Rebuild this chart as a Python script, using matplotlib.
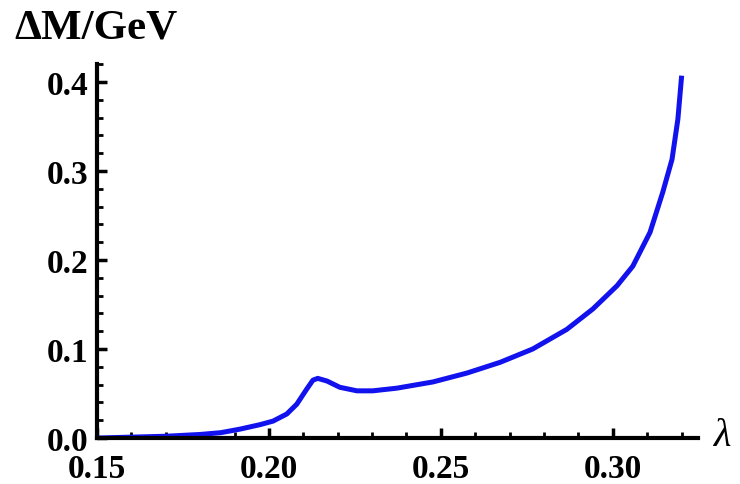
import matplotlib
matplotlib.use("Agg")
import matplotlib.pyplot as plt
from matplotlib.ticker import MultipleLocator, FixedLocator

lam = [0.150, 0.160, 0.170, 0.180, 0.186, 0.1916, 0.1974, 0.2012, 0.2052, 0.2081,
       0.2110, 0.2128, 0.2142, 0.2169, 0.2206, 0.2256, 0.2302, 0.2372, 0.2477, 0.2576,
       0.2672, 0.2767, 0.2866, 0.2942, 0.3012, 0.3058, 0.3108, 0.3145, 0.3172, 0.3189, 0.3200]
dM = [0.000, 0.001, 0.002, 0.004, 0.006, 0.010, 0.015, 0.019, 0.027, 0.038,
      0.055, 0.065, 0.067, 0.064, 0.057, 0.053, 0.053, 0.056, 0.063, 0.073,
      0.085, 0.100, 0.122, 0.145, 0.171, 0.193, 0.231, 0.276, 0.313, 0.358, 0.407]

xticks = [0.15, 0.20, 0.25, 0.30]
xticklabels = ["0.15", "0.20", "0.25", "0.30"]
yticks = [0.0, 0.1, 0.2, 0.3, 0.4]
yticklabels = ["0.0", "0.1", "0.2", "0.3", "0.4"]

plt.rcParams['font.family'] = ['Liberation Serif', 'DejaVu Serif']

fig = plt.figure(figsize=(7.4, 4.85), dpi=100)
ax = fig.add_axes([0.131, 0.0948, 0.812, 0.771])

ax.plot(lam, dM, color='#1212ee', lw=3.6, solid_capstyle='butt', solid_joinstyle='round')

ax.set_xlim(0.15, 0.3247)
ax.set_ylim(0.0, 0.42)

for s in ['top', 'right']:
    ax.spines[s].set_visible(False)
for s in ['left', 'bottom']:
    ax.spines[s].set_linewidth(3.0)
    ax.spines[s].set_color('black')

ax.xaxis.set_major_locator(FixedLocator(xticks))
ax.set_xticklabels(xticklabels)
ax.yaxis.set_major_locator(FixedLocator(yticks))
ax.set_yticklabels(yticklabels)
ax.xaxis.set_minor_locator(MultipleLocator(0.01))
ax.yaxis.set_minor_locator(MultipleLocator(0.02))

ax.tick_params(which='major', direction='in', length=7, width=2.5, labelsize=24, pad=11)
ax.tick_params(which='minor', direction='in', length=4, width=2.0)
ax.tick_params(axis='y', which='major', pad=6)
for lab in ax.get_xticklabels() + ax.get_yticklabels():
    lab.set_fontweight('bold')

fig.text(0.02, 0.942, "ΔM/GeV", fontsize=31, fontweight='bold', va='center', ha='left')
fig.text(0.965, 0.099, "λ", fontsize=29, va='center', ha='left', style='italic')

fig.savefig("out.png", dpi=100, facecolor='white')
